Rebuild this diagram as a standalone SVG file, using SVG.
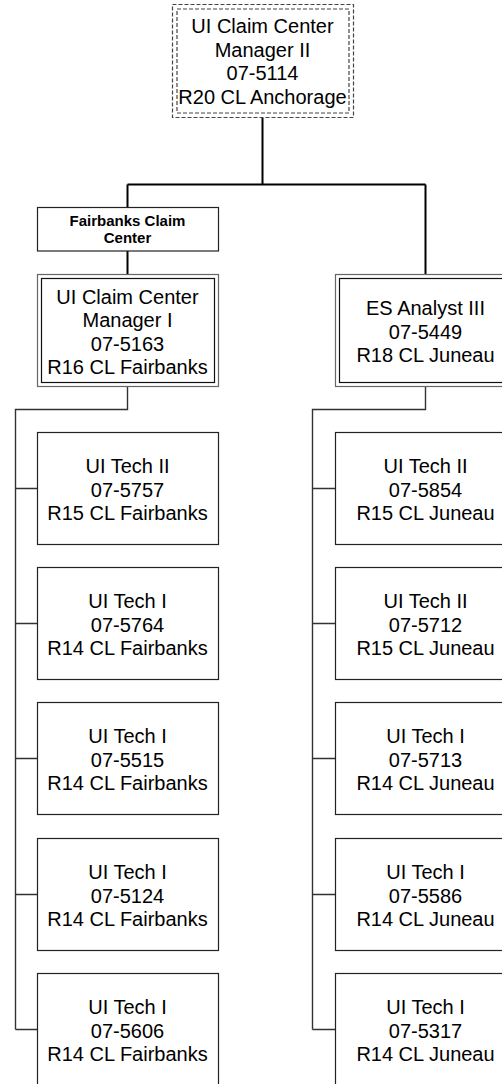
<svg xmlns="http://www.w3.org/2000/svg" width="502" height="1084" viewBox="0 0 502 1084">
<style>
text{font-family:"Liberation Sans",Arial,sans-serif;font-size:20px;fill:#000;text-anchor:middle}
.b{font-weight:bold;font-size:15px}
.box{fill:#fff;stroke:#222;stroke-width:1.2}
.outer{fill:#fff;stroke:#666;stroke-width:1.2}
.inner{fill:none;stroke:#111;stroke-width:1.2}
.dash{fill:none;stroke:#444;stroke-width:1.2;stroke-dasharray:4 2}
.c{fill:none;stroke:#000;stroke-width:2}
.t{fill:none;stroke:#333;stroke-width:1.4}
</style>
<g id="connectors">
<path class="c" d="M262.5 118V184.5M127.5 184.5H425.5M127.5 184.5V207M425.5 184.5V274.5M127.5 251V274.5"/>
<path class="t" d="M127.5 386V409.5H15.5V1029.5M15.5 488.5H37M15.5 623.5H37M15.5 758.5H37M15.5 894.5H37M15.5 1029.5H37"/>
<path class="t" d="M425.5 386V409.5H312.5V1029.5M312.5 488.5H335M312.5 623.5H335M312.5 758.5H335M312.5 894.5H335M312.5 1029.5H335"/>
</g>
<g id="n_top">
<rect class="dash" x="172.5" y="4.5" width="181" height="113"/>
<rect class="dash" x="177" y="9" width="172" height="104"/>
<text x="262.5" y="33">UI Claim Center</text>
<text x="262.5" y="56.5">Manager II</text>
<text x="262.5" y="80">07-5114</text>
<text x="262.5" y="103.5">R20 CL Anchorage</text>
</g>
<g id="n_fcc">
<rect class="box" x="37.5" y="207.5" width="181" height="43.5"/>
<text class="b" x="127.5" y="225.5">Fairbanks Claim</text>
<text class="b" x="127.5" y="243">Center</text>
</g>
<g id="n_mgr1">
<rect class="outer" x="37.5" y="274.5" width="181" height="112"/>
<rect class="inner" x="41.5" y="278.5" width="173" height="104"/>
<text x="127.5" y="303.5">UI Claim Center</text>
<text x="127.5" y="327">Manager I</text>
<text x="127.5" y="350.5">07-5163</text>
<text x="127.5" y="374">R16 CL Fairbanks</text>
</g>
<g id="n_es3">
<rect class="outer" x="335.5" y="274.5" width="181" height="112"/>
<rect class="inner" x="339.5" y="278.5" width="173" height="104"/>
<text x="425.5" y="315">ES Analyst III</text>
<text x="425.5" y="338.5">07-5449</text>
<text x="425.5" y="362">R18 CL Juneau</text>
</g>
<g id="n_l1"><rect class="box" x="37.5" y="432.5" width="181" height="112"/><text x="127.5" y="473">UI Tech II</text><text x="127.5" y="496.5">07-5757</text><text x="127.5" y="520">R15 CL Fairbanks</text></g>
<g id="n_l2"><rect class="box" x="37.5" y="567.5" width="181" height="112"/><text x="127.5" y="608">UI Tech I</text><text x="127.5" y="631.5">07-5764</text><text x="127.5" y="655">R14 CL Fairbanks</text></g>
<g id="n_l3"><rect class="box" x="37.5" y="702.5" width="181" height="112"/><text x="127.5" y="743">UI Tech I</text><text x="127.5" y="766.5">07-5515</text><text x="127.5" y="790">R14 CL Fairbanks</text></g>
<g id="n_l4"><rect class="box" x="37.5" y="838.5" width="181" height="112"/><text x="127.5" y="879">UI Tech I</text><text x="127.5" y="902.5">07-5124</text><text x="127.5" y="926">R14 CL Fairbanks</text></g>
<g id="n_l5"><rect class="box" x="37.5" y="973.5" width="181" height="112"/><text x="127.5" y="1014">UI Tech I</text><text x="127.5" y="1037.5">07-5606</text><text x="127.5" y="1061">R14 CL Fairbanks</text></g>
<g id="n_r1"><rect class="box" x="335.5" y="432.5" width="181" height="112"/><text x="425.5" y="473">UI Tech II</text><text x="425.5" y="496.5">07-5854</text><text x="425.5" y="520">R15 CL Juneau</text></g>
<g id="n_r2"><rect class="box" x="335.5" y="567.5" width="181" height="112"/><text x="425.5" y="608">UI Tech II</text><text x="425.5" y="631.5">07-5712</text><text x="425.5" y="655">R15 CL Juneau</text></g>
<g id="n_r3"><rect class="box" x="335.5" y="702.5" width="181" height="112"/><text x="425.5" y="743">UI Tech I</text><text x="425.5" y="766.5">07-5713</text><text x="425.5" y="790">R14 CL Juneau</text></g>
<g id="n_r4"><rect class="box" x="335.5" y="838.5" width="181" height="112"/><text x="425.5" y="879">UI Tech I</text><text x="425.5" y="902.5">07-5586</text><text x="425.5" y="926">R14 CL Juneau</text></g>
<g id="n_r5"><rect class="box" x="335.5" y="973.5" width="181" height="112"/><text x="425.5" y="1014">UI Tech I</text><text x="425.5" y="1037.5">07-5317</text><text x="425.5" y="1061">R14 CL Juneau</text></g>
</svg>
